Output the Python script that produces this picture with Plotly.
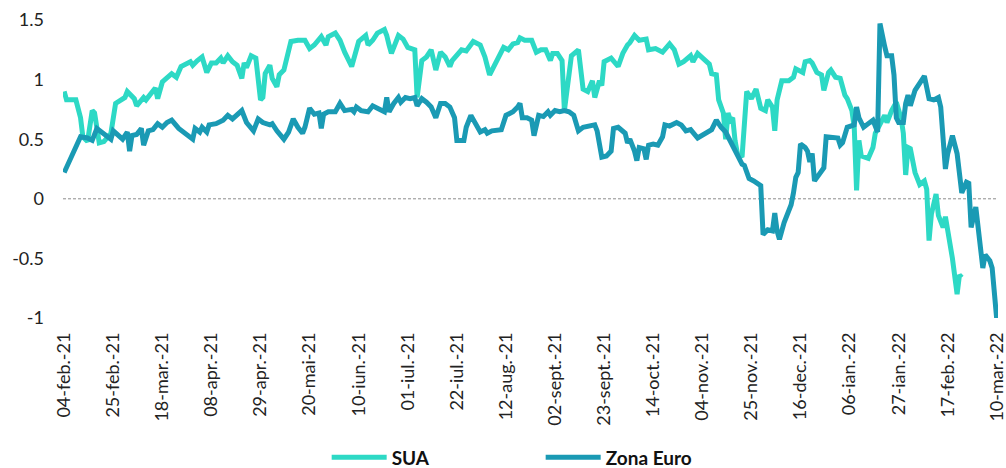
import pandas as pd
import plotly.graph_objects as go

# days since 04-feb-21 and values
sua_day = [0, 1, 5, 6, 7, 8, 10, 12, 13, 15, 17, 20, 22, 26, 27, 30, 31, 34, 35, 39,
           40, 42, 46, 48, 50, 54, 55, 57, 59, 61, 63, 65, 67, 68, 70, 72, 74, 76, 77, 78,
           80, 82, 84, 85, 86, 88, 89, 91, 92, 94, 95, 97, 100, 103, 105, 107, 110, 112, 113, 116,
           118, 120, 123, 125, 126, 129, 130, 132, 134, 137, 138, 139, 140, 143, 145, 147, 150, 151, 153, 155,
           157, 159, 161, 163, 165, 166, 170, 172, 175, 178, 180, 182, 184, 186, 188, 190, 192, 194, 195, 197,
           200, 202, 204, 206, 208, 209, 211, 213, 214, 217, 220, 222, 224, 226, 227, 229, 230, 231, 234, 237,
           239, 241, 242, 244, 246, 249, 250, 253, 256, 259, 261, 263, 265, 268, 269, 271, 273, 276, 277, 279,
           280, 282, 283, 284, 285, 286, 287, 288, 290, 291, 292, 294, 296, 298, 300, 301, 303, 304, 305, 307,
           310, 312, 313, 316, 317, 319, 320, 322, 324, 325, 327, 328, 330, 332, 334, 335, 337, 338, 339, 340,
           341, 344, 346, 347, 349, 351, 352, 354, 356, 358, 359, 360, 361, 362, 364, 366, 368, 369, 370, 371,
           373, 374, 376, 377, 380, 382, 383, 384]
sua_val = [0.90, 0.83, 0.83, 0.74, 0.68, 0.52, 0.48, 0.74, 0.72, 0.47, 0.48, 0.55, 0.80, 0.85, 0.90, 0.84, 0.78, 0.85, 0.83, 0.93,
           0.84, 0.98, 1.05, 1.02, 1.11, 1.15, 1.12, 1.16, 1.19, 1.06, 1.14, 1.14, 1.18, 1.14, 1.20, 1.15, 1.12, 1.01, 1.14, 1.10,
           1.20, 1.18, 0.83, 0.85, 1.05, 1.12, 1.01, 0.94, 1.04, 1.08, 1.16, 1.32, 1.33, 1.33, 1.26, 1.29, 1.36, 1.29, 1.36, 1.39,
           1.33, 1.23, 1.11, 1.25, 1.32, 1.37, 1.29, 1.33, 1.39, 1.42, 1.37, 1.29, 1.22, 1.37, 1.34, 1.27, 1.25, 0.85, 1.16, 1.19,
           1.25, 1.08, 1.23, 1.19, 1.11, 1.16, 1.25, 1.24, 1.32, 1.29, 1.19, 1.04, 1.12, 1.20, 1.27, 1.25, 1.30, 1.31, 1.35, 1.33,
           1.33, 1.23, 1.25, 1.25, 1.16, 1.22, 1.22, 1.16, 0.74, 1.20, 1.25, 0.92, 0.90, 0.99, 0.85, 0.99, 0.95, 1.15, 1.18, 1.11,
           1.22, 1.29, 1.31, 1.37, 1.33, 1.34, 1.25, 1.26, 1.23, 1.30, 1.25, 1.13, 1.15, 1.20, 1.15, 1.22, 1.18, 1.13, 1.05, 1.04,
           0.83, 0.72, 0.50, 0.72, 0.66, 0.68, 0.49, 0.38, 0.35, 0.60, 0.90, 0.84, 0.92, 0.76, 0.74, 0.83, 0.77, 0.57, 0.83, 0.99,
           0.99, 1.02, 1.09, 1.06, 1.15, 1.16, 1.14, 1.06, 1.04, 0.91, 1.06, 1.08, 1.02, 1.01, 0.87, 0.84, 0.74, 0.60, 0.07, 0.49,
           0.36, 0.34, 0.43, 0.55, 0.63, 0.70, 0.64, 0.74, 0.81, 0.68, 0.55, 0.20, 0.43, 0.42, 0.22, 0.12, 0.15, 0.08, -0.35, -0.13,
           0.04, -0.14, -0.24, -0.15, -0.50, -0.80, -0.64, -0.66]

euro_day = [0, 3, 7, 10, 12, 14, 17, 20, 21, 23, 25, 27, 28, 29, 31, 33, 34, 36, 38, 40,
            42, 44, 46, 49, 52, 55, 56, 58, 59, 61, 62, 65, 68, 70, 72, 74, 76, 78, 81, 83,
            85, 88, 89, 91, 94, 96, 98, 100, 102, 103, 105, 107, 109, 110, 111, 113, 116, 118, 120, 123,
            124, 125, 127, 130, 132, 134, 137, 138, 139, 141, 143, 144, 146, 148, 150, 151, 153, 155, 157, 159,
            161, 163, 165, 167, 168, 171, 172, 174, 176, 178, 180, 181, 183, 186, 187, 189, 192, 194, 195, 196,
            198, 200, 201, 203, 205, 207, 208, 210, 212, 214, 216, 218, 220, 222, 227, 228, 230, 232, 234, 235,
            237, 240, 241, 242, 244, 245, 246, 248, 249, 250, 252, 254, 256, 257, 259, 262, 264, 266, 268, 271,
            274, 277, 279, 281, 283, 286, 288, 290, 291, 293, 295, 298, 299, 301, 303, 304, 305, 306, 308, 311,
            312, 313, 314, 315, 317, 318, 319, 320, 321, 323, 325, 326, 328, 331, 332, 333, 335, 337, 338, 339,
            340, 342, 344, 346, 348, 349, 351, 352, 354, 355, 356, 357, 359, 360, 361, 362, 364, 366, 368, 370,
            372, 374, 375, 377, 378, 380, 382, 384, 386, 387, 388, 390, 391, 392, 393, 394, 396, 397, 399]
euro_val = [0.22, 0.35, 0.52, 0.51, 0.49, 0.59, 0.55, 0.50, 0.57, 0.53, 0.50, 0.56, 0.40, 0.53, 0.54, 0.59, 0.45, 0.57, 0.58, 0.63,
            0.60, 0.64, 0.66, 0.59, 0.55, 0.50, 0.59, 0.56, 0.60, 0.56, 0.62, 0.63, 0.66, 0.70, 0.67, 0.71, 0.74, 0.64, 0.57, 0.67,
            0.64, 0.62, 0.63, 0.57, 0.50, 0.56, 0.67, 0.60, 0.55, 0.60, 0.76, 0.71, 0.72, 0.59, 0.71, 0.73, 0.73, 0.80, 0.74, 0.75,
            0.73, 0.77, 0.74, 0.73, 0.78, 0.76, 0.73, 0.85, 0.73, 0.80, 0.85, 0.81, 0.85, 0.84, 0.85, 0.78, 0.84, 0.81, 0.77, 0.68,
            0.80, 0.80, 0.77, 0.68, 0.49, 0.49, 0.60, 0.70, 0.62, 0.56, 0.58, 0.55, 0.57, 0.57, 0.58, 0.70, 0.73, 0.77, 0.80, 0.68,
            0.68, 0.66, 0.53, 0.70, 0.69, 0.73, 0.70, 0.74, 0.73, 0.74, 0.73, 0.70, 0.57, 0.60, 0.62, 0.57, 0.35, 0.36, 0.40, 0.59,
            0.60, 0.55, 0.47, 0.50, 0.40, 0.32, 0.43, 0.42, 0.33, 0.45, 0.46, 0.45, 0.52, 0.62, 0.61, 0.64, 0.62, 0.57, 0.58, 0.51,
            0.55, 0.58, 0.66, 0.60, 0.56, 0.45, 0.36, 0.29, 0.28, 0.17, 0.15, 0.11, -0.30, -0.26, -0.27, -0.12, -0.27, -0.34, -0.20, -0.05,
            0.05, 0.18, 0.22, 0.46, 0.43, 0.40, 0.31, 0.38, 0.15, 0.20, 0.26, 0.52, 0.52, 0.51, 0.45, 0.47, 0.60, 0.62, 0.62, 0.77,
            0.68, 0.60, 0.63, 0.66, 0.56, 1.47, 1.28, 1.20, 1.20, 1.04, 0.68, 0.64, 0.64, 0.80, 0.87, 0.78, 0.91, 0.98, 1.03, 0.84,
            0.83, 0.85, 0.77, 0.25, 0.38, 0.53, 0.38, 0.05, 0.14, 0.13, -0.24, -0.07, -0.24, -0.33, -0.58, -0.47, -0.52, -0.58, -1.02]

tick_labels = ["04-feb.-21", "25-feb.-21", "18-mar.-21", "08-apr.-21", "29-apr.-21",
               "20-mai-21", "10-iun.-21", "01-iul.-21", "22-iul.-21", "12-aug.-21",
               "02-sept.-21", "23-sept.-21", "14-oct.-21", "04-nov.-21", "25-nov.-21",
               "16-dec.-21", "06-ian.-22", "27-ian.-22", "17-feb.-22", "10-mar.-22"]
y_ticks = [-1, -0.5, 0, 0.5, 1, 1.5]
y_labels = ["-1", "-0.5", "0", "0.5", "1", "1.5"]

start = pd.Timestamp("2021-02-04")
sua_dates = start + pd.to_timedelta(sua_day, unit="D")
euro_dates = start + pd.to_timedelta(euro_day, unit="D")
tick_dates = pd.date_range(start, periods=len(tick_labels), freq="21D")
pad = pd.Timedelta(hours=12)

fig = go.Figure()
fig.add_trace(go.Scatter(x=sua_dates, y=sua_val, mode="lines", name="SUA",
                         line=dict(color="#2DD9C5", width=5)))
fig.add_trace(go.Scatter(x=euro_dates, y=euro_val, mode="lines", name="Zona Euro",
                         line=dict(color="#1A9AB4", width=5)))

fig.add_shape(type="line", xref="paper", yref="y", x0=0, x1=1, y0=0, y1=0,
              line=dict(color="#8c8c8c", width=1, dash="3px,2px"), layer="below")

fig.update_layout(
    width=1006, height=468,
    margin=dict(l=63, r=8, t=20, b=150, autoexpand=False),
    plot_bgcolor="white", paper_bgcolor="white",
    font=dict(family="Lato", size=18, color="#222222"),
    showlegend=True,
    legend=dict(orientation="h", x=0.282, xanchor="left", y=-0.468, yanchor="middle",
                font=dict(family="Lato", size=19, color="#111111", weight="bold"),
                entrywidth=144, itemwidth=55),
    xaxis=dict(range=[start - pad, tick_dates[-1] + pad], tickvals=tick_dates, ticktext=tick_labels,
               tickangle=-90, showgrid=False, zeroline=False, showline=False,
               ticks="", ticklabelstandoff=10, ticklabeloverflow="allow", automargin=False),
    yaxis=dict(range=[-1, 1.5], tickvals=y_ticks, ticktext=y_labels,
               showgrid=False, zeroline=False, showline=False,
               ticks="", ticklabelstandoff=18, automargin=False),
)

# drop the browser's default body margin so the chart sits at the page origin
fig.write_html("out.html", config={"displayModeBar": False},
               post_script="document.body.style.margin = '0';")
